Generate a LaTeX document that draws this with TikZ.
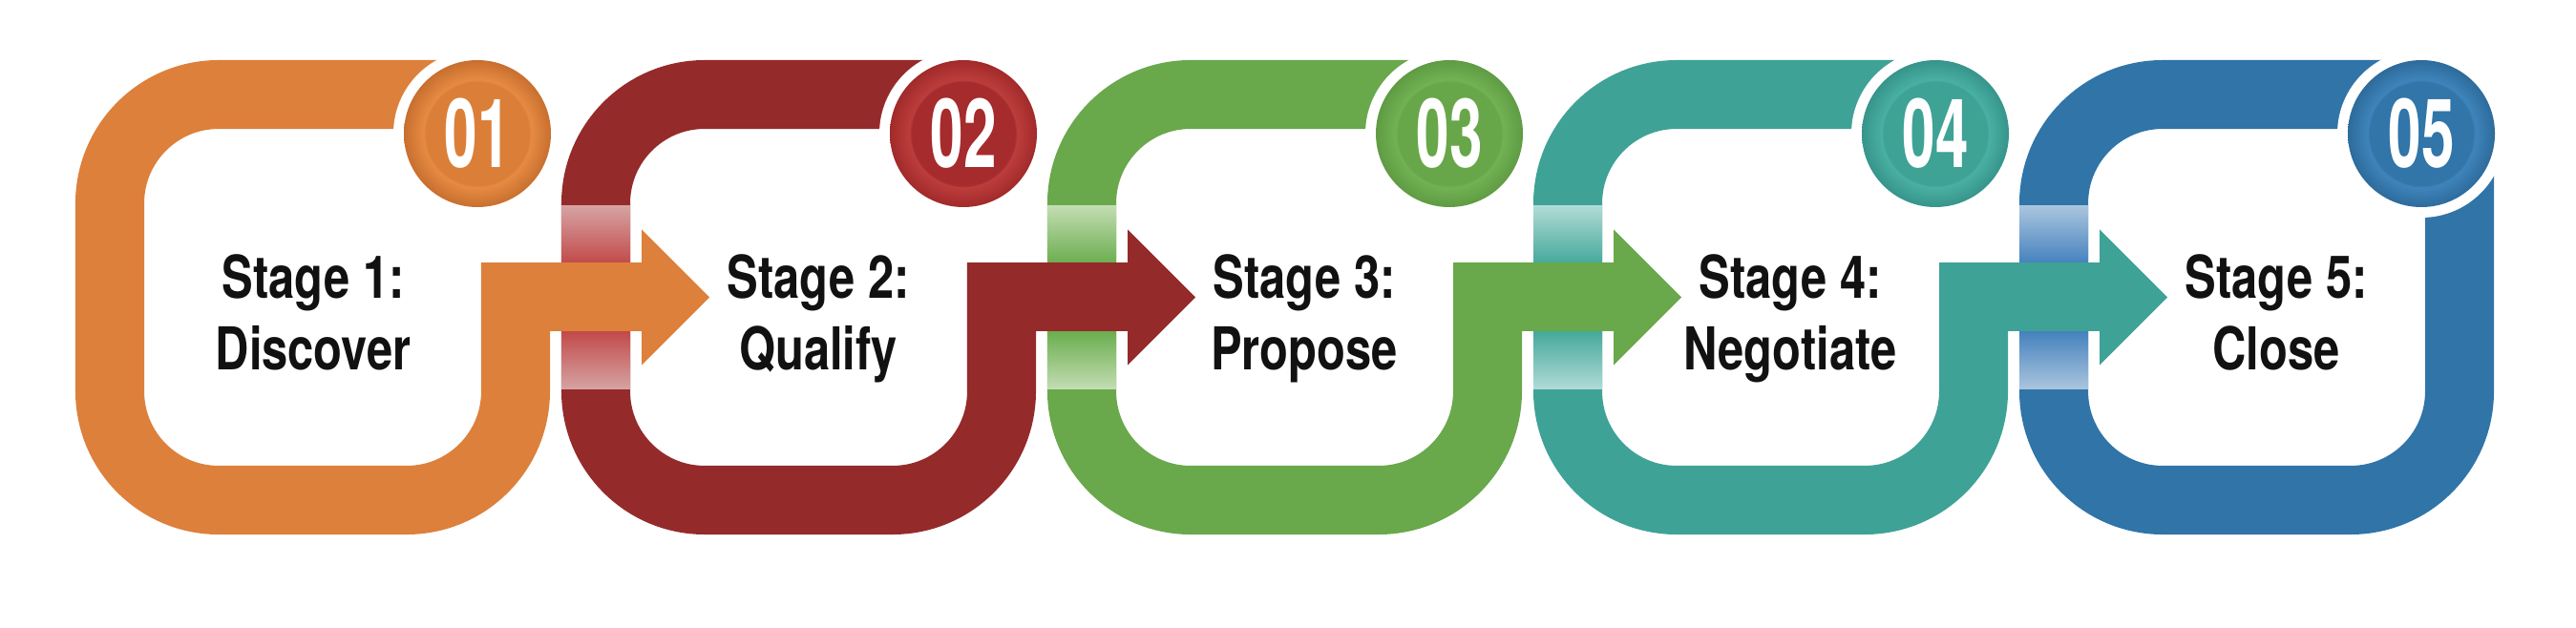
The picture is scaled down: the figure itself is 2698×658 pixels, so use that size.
\documentclass[tikz,border=0pt]{standalone}
\usepackage{fontspec}
\newfontfamily\stagefont[FakeStretch=0.79]{TeX Gyre Heros}
\newfontfamily\numfont[FakeStretch=0.62]{TeX Gyre Heros}
\definecolor{ringA}{HTML}{DD803B}
\definecolor{ringB}{HTML}{952A2B}
\definecolor{ringC}{HTML}{69A84B}
\definecolor{ringD}{HTML}{3FA296}
\definecolor{ringE}{HTML}{3074A8}
\definecolor{textdark}{HTML}{111111}
% band colours (light, bright, dark)
\definecolor{bandBl}{HTML}{D6A3A3}\definecolor{bandBb}{HTML}{D45C5C}\definecolor{bandBd}{HTML}{C24A4A}
\definecolor{bandCl}{HTML}{C3DDB3}\definecolor{bandCb}{HTML}{9BD77B}\definecolor{bandCd}{HTML}{6BAE4F}
\definecolor{bandDl}{HTML}{B1DBD7}\definecolor{bandDb}{HTML}{6FDACB}\definecolor{bandDd}{HTML}{45A99B}
\definecolor{bandEl}{HTML}{AAC5DE}\definecolor{bandEb}{HTML}{5BA1DD}\definecolor{bandEd}{HTML}{4582BE}
% number circle colours (mid, light, dark)
\definecolor{numAm}{HTML}{DB7F38}\definecolor{numAl}{HTML}{E58B43}\definecolor{numAd}{HTML}{C86F2F}
\definecolor{numBm}{HTML}{A52B2C}\definecolor{numBl}{HTML}{BC3D3B}\definecolor{numBd}{HTML}{A12A2A}
\definecolor{numCm}{HTML}{67A74A}\definecolor{numCl}{HTML}{71B253}\definecolor{numCd}{HTML}{5F9B43}
\definecolor{numDm}{HTML}{3EA295}\definecolor{numDl}{HTML}{49B0A3}\definecolor{numDd}{HTML}{37948A}
\definecolor{numEm}{HTML}{3175A9}\definecolor{numEl}{HTML}{3E84BB}\definecolor{numEd}{HTML}{2D6B9B}
\colorlet{nummid}{ringA}
\colorlet{numlight}{ringA}
\colorlet{numdark}{ringA}
\pgfdeclareradialshading[nummid,numlight,numdark]{numshade}{\pgfpoint{0bp}{0bp}}{color(0bp)=(nummid); color(17.6bp)=(nummid); color(18.3bp)=(numlight); color(25bp)=(numdark); color(50bp)=(numdark)}
\tikzset{
  ringline/.style={line width=0.72cm, line cap=butt, line join=miter},
  stagetext/.style={text=textdark, font=\stagefont\bfseries\fontsize{17.6pt}{21pt}\selectfont, inner sep=0pt, anchor=base},
  numtext/.style={text=white, font=\numfont\bfseries\fontsize{28.5pt}{30pt}\selectfont, inner sep=0pt}
}
\newcommand\ringbody[2]{%
  \draw[ringline, draw=#2, rounded corners=1.14cm] ({#1+470},99) -- ({#1+115},99) -- ({#1+115},524) -- ({#1+540},524) -- ({#1+540},275.5);
  \fill[#2] ({#1+504},275.5) rectangle ({#1+672},347.5);
  \fill[#2] ({#1+672},240.5) -- ({#1+743},311.5) -- ({#1+672},382.5) -- cycle;
}
\newcommand\ringband[2]{%
  \shade[top color=band#2l, middle color=band#2b, bottom color=band#2d] ({#1+79},215.5) rectangle ({#1+151},275.5);
  \shade[top color=band#2d, middle color=band#2b, bottom color=band#2l] ({#1+79},347.5) rectangle ({#1+151},407.5);
}
\newcommand\numcirc[4]{%
  \fill[white] ({#2},140) circle[radius=88];
  \colorlet{nummid}{num#3m}\colorlet{numlight}{num#3l}\colorlet{numdark}{num#3d}%
  \shade[shading=numshade] ({#2},140) circle[radius=77];
  \node[numtext] (#1) at ({#2},140) {#4};
}
\begin{document}
\begin{tikzpicture}[x=0.01cm, y=-0.01cm]
\useasboundingbox[fill=white] (0,0) rectangle (2698,658);
% stage 5 ring (closed on the right)
\draw[ringline, draw=ringE, rounded corners=1.14cm] ({2036+540},180) -- ({2036+540},524) -- ({2036+115},524) -- ({2036+115},99) -- ({2036+470},99);
\ringband{2036}{E}
% stage 4
\ringbody{1527}{ringD}
\ringband{1527}{D}
% stage 3
\ringbody{1018}{ringC}
\ringband{1018}{C}
% stage 2
\ringbody{509}{ringB}
\ringband{509}{B}
% stage 1
\ringbody{0}{ringA}
% number circles
\numcirc{n1}{500}{A}{01}
\numcirc{n2}{1009}{B}{02}
\numcirc{n3}{1518}{C}{03}
\numcirc{n4}{2027}{D}{04}
\numcirc{n5}{2536}{E}{05}
% stage texts
\node[stagetext] (s1a) at (328,313) {Stage 1:};
\node[stagetext] (s1b) at (328,387) {Discover};
\node[stagetext] (s2a) at (857,313) {Stage 2:};
\node[stagetext] (s2b) at (857,387) {Qualify};
\node[stagetext] (s3a) at (1366,313) {Stage 3:};
\node[stagetext] (s3b) at (1366,387) {Propose};
\node[stagetext] (s4a) at (1875,313) {Stage 4:};
\node[stagetext] (s4b) at (1875,387) {Negotiate};
\node[stagetext] (s5a) at (2384,313) {Stage 5:};
\node[stagetext] (s5b) at (2384,387) {Close};
\end{tikzpicture}
\end{document}
